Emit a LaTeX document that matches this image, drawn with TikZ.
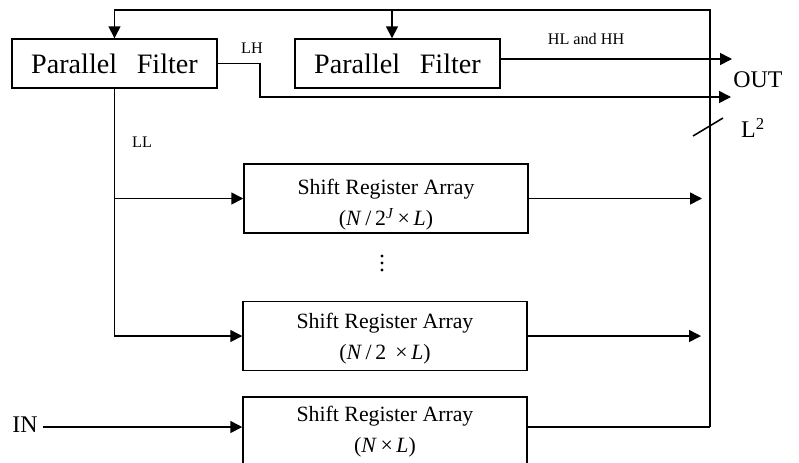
\documentclass[tikz,border=0pt]{standalone}
\usepackage{fontspec}
\setmainfont{Liberation Serif}
\usetikzlibrary{arrows.meta}
\tikzset{
  filt/.style={draw, line width=1pt, minimum width=5.125cm, minimum height=1.225cm,
    inner sep=0pt, font=\fontsize{20}{22}\selectfont},
  blk/.style={draw, line width=1pt, minimum width=7.1cm, minimum height=1.725cm, inner sep=0pt},
  blktext/.style={align=center, inner sep=0pt, font=\fontsize{15.5}{22}\selectfont},
  wire/.style={line width=1.1pt},
  arr/.style={wire, -{Triangle[length=0.3cm,width=0.3cm]}},
  small/.style={font=\fontsize{11.5}{12}\selectfont},
  big/.style={font=\fontsize{17}{19}\selectfont}
}
\begin{document}
\begin{tikzpicture}[x=0.025cm,y=-0.025cm]
  \clip (0,0) rectangle (799,462);

  % filter stage
  \node[filt] (pf1) at (114.5,63.5) {Parallel\hspace{0.7em}Filter};
  \node[filt] (pf2) at (397.5,63.5) {Parallel\hspace{0.7em}Filter};

  % shift register arrays
  \node[blk] (sr1) at (386,198.5) {};
  \node[blk] (sr2) at (385,336) {};
  \node[blk] (sr3) at (385,431.5) {};
  \node[blktext] (t1) at (386,205) {Shift Register Array\\(\textit{N}\,/\,2\textsuperscript{\textit{J}}\,×\,\textit{L})};
  \node[blktext] (t2) at (385,339) {Shift Register Array\\(\textit{N}\,/\,2\ \,×\,\textit{L})};
  \node[blktext] (t3) at (385,432) {Shift Register Array\\(\textit{N}\,×\,\textit{L})};

  % vertical ellipsis between the arrays
  \foreach \yy in {256,263,270} \fill (382,\yy) circle (1.6);

  % labels
  \node[big] (in) at (25,425) {IN};
  \node[big] (out) at (758,80) {OUT};
  \node[big] (l2) at (753,128) {L\textsuperscript{2}};
  \node[small] (lh) at (252,48) {LH};
  \node[small] (hl) at (586,39) {HL and HH};
  \node[small] (ll) at (142,142) {LL};

  % feedback bus
  \coordinate (se) at (710,427);
  \coordinate (ne) at (710,10);
  \coordinate (fb2) at (392,10);
  \draw[wire] (sr3.east |- se) -- (se);
  \draw[arr] (se) -- (ne) -| (pf1.north);
  \draw[arr] (fb2) -- (fb2 |- pf2.north);

  % register outputs
  \coordinate (o1) at (702,198.5);
  \coordinate (o2) at (701,336);
  \draw[arr] (sr1.east) -- (o1);
  \draw[arr] (sr2.east) -- (o2);

  % low-low band to the arrays
  \draw[arr] (pf1.south) |- (sr2.west);
  \draw[arr] (pf1.south |- sr1.west) -- (sr1.west);

  % input
  \draw[arr] (in.east |- se) -- (sr3.west |- se);

  % high bands out
  \coordinate (lhb) at (260,97);
  \coordinate (outLH) at (731,97);
  \coordinate (outHL) at (732,59);
  \draw[arr] (pf1.east) -| (lhb) -- (outLH);
  \draw[arr] (pf2.east |- outHL) -- (outHL);

  % bus width mark
  \coordinate (m1) at (693,136);
  \coordinate (m2) at (723,118);
  \draw[wire] (m1) -- (m2);
\end{tikzpicture}
\end{document}
